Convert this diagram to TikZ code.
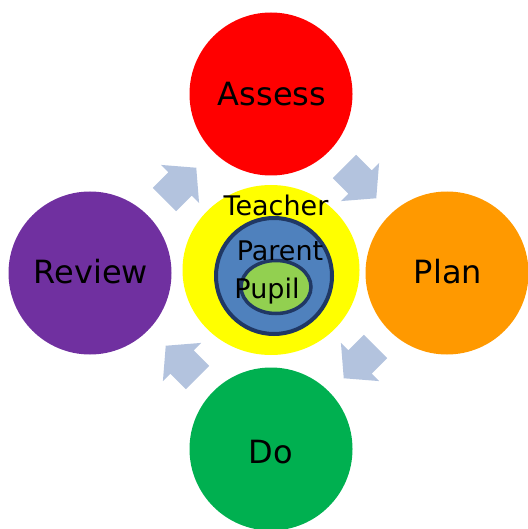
\documentclass[tikz,border=0pt]{standalone}
\usepackage{fontspec}
\setmainfont{DejaVu Sans}
\usetikzlibrary{shapes.geometric}

\definecolor{assessred}{HTML}{FF0000}
\definecolor{planorange}{HTML}{FF9900}
\definecolor{dogreen}{HTML}{00B050}
\definecolor{reviewpurple}{HTML}{7030A0}
\definecolor{teacheryellow}{HTML}{FFFF00}
\definecolor{parentblue}{HTML}{4F81BD}
\definecolor{pupilgreen}{HTML}{92D050}
\definecolor{ringblue}{HTML}{203864}
\definecolor{arrowblue}{HTML}{B3C3DE}

\tikzset{
  stage/.style={circle, minimum size=163pt, inner sep=0pt},
  stagetext/.style={anchor=base, inner sep=0pt, font=\fontsize{32}{32}\selectfont},
  ringtext/.style={anchor=base, inner sep=0pt, font=\fontsize{27}{27}\selectfont}
}

\begin{document}
\begin{tikzpicture}[x=1pt, y=-1pt]
    \useasboundingbox (0,0) rectangle (527,529);
    % four stages
    \node[stage, fill=assessred] (assess) at (271,94) {};
    \node[stage, fill=planorange] (plan) at (447,273) {};
    \node[stage, fill=dogreen] (do) at (271,449) {};
    \node[stage, fill=reviewpurple] (review) at (90,273) {};
    \node[stagetext] at (272,106) {Assess};
    \node[stagetext] at (448,283) {Plan};
    \node[stagetext] at (271,463) {Do};
    \node[stagetext] at (91,283) {Review};
    % block arrows between the stages
    \foreach \pos/\ang in {(180,184)/45, (360,182)/-45, (360,362)/-135, (182,362)/135}
        \fill[arrowblue, shift={\pos}, rotate=\ang]
            (-22,-16.5) -- (0,-16.5) -- (0,-27) -- (23,0) -- (0,27) -- (0,16.5) -- (-22,16.5) -- cycle;
    % teacher, parent, pupil
    \node[ellipse, fill=teacheryellow, minimum width=177pt, minimum height=170pt] (teacher) at (271,270) {};
    \node[circle, fill=parentblue, draw=ringblue, line width=4pt, minimum size=116pt] (parent) at (274,276) {};
    \node[ellipse, fill=pupilgreen, draw=ringblue, line width=3.5pt, minimum width=70pt, minimum height=53pt] (pupil) at (276,287) {};
    \node[ringtext] at (276,215) {Teacher};
    \node[ringtext] at (280,260) {Parent};
    \node[ringtext] at (267,298) {Pupil};
\end{tikzpicture}
\end{document}
